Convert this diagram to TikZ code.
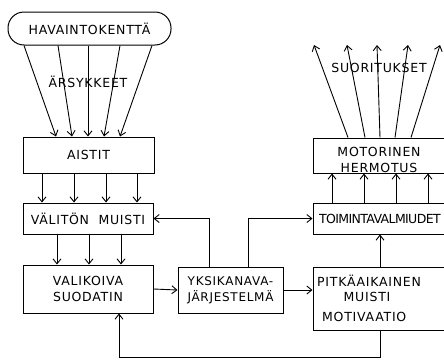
\documentclass[tikz,border=0pt]{standalone}
\usepackage{fontspec}
\setmainfont{DejaVu Sans}[LetterSpace=6]
\usetikzlibrary{arrows.meta}
\begin{document}
\begin{tikzpicture}[x=1pt,y=-1pt,
  box/.style={draw,line width=1pt,inner sep=0pt,align=center,
    font=\fontsize{12.5}{16}\selectfont},
  lbl/.style={inner sep=0pt,align=center,font=\fontsize{12.5}{16}\selectfont},
  arr/.style={line width=0.9pt,-{Straight Barb[length=5pt,width=8pt]}},
  ln/.style={line width=0.9pt}]
\useasboundingbox (0,0) rectangle (444,359);
\clip (0,0) rectangle (444,359);
% boxes
\node[box,rounded corners=16pt,minimum width=163pt,minimum height=33pt] (havain) at (89.5,28.5) {HAVAINTOKENTTÄ};
\node[box,minimum width=131pt,minimum height=36pt] (aistit) at (88.5,155) {AISTIT};
\node[box,minimum width=130pt,minimum height=31pt] (valiton) at (88,218.5) {VÄLITÖN\ \ MUISTI};
\node[box,minimum width=130pt,minimum height=48pt] (valik) at (88,289) {VALIKOIVA\\SUODATIN};
\node[box,minimum width=105pt,minimum height=46pt,font=\fontsize{12}{16}\selectfont] (yksi) at (230.5,290) {YKSIKANAVA-\\JÄRJESTELMÄ};
\node[box,minimum width=147pt,minimum height=35pt] (motor) at (386.5,155.5) {};
\node[box,minimum width=147pt,minimum height=31pt] (toim) at (386.5,218.5) {};
\node[box,minimum width=147pt,minimum height=63pt] (pitka) at (386.5,298.5) {};
% labels
\node[lbl] (arsy) at (88,82) {ÄRSYKKEET};
\node[lbl] (suor) at (379,68) {SUORITUKSET};
\node[lbl] (motorl) at (379,160) {MOTORINEN\\HERMOTUS};
\node[lbl,anchor=west] (toiml) at (319,219) {\addfontfeature{LetterSpace=-5}TOIMINTAVALMIUDET};
\node[lbl,anchor=west] (pitl1) at (317,281) {PITKÄAIKAINEN};
\node[lbl] (pitl2) at (367,297) {MUISTI};
\node[lbl,anchor=west] (pitl3) at (322,317) {MOTIVAATIO};
% stimuli arrows
\foreach \a/\b in {24/56,58/72,88/88,120/104,152/120}
  \draw[arr] (havain.south -| \a,0) -- (aistit.north -| \b,0);
\foreach \a in {42,74,106,137}
  \draw[arr] (aistit.south -| \a,0) -- (valiton.north -| \a,0);
\foreach \a in {57,89,121}
  \draw[arr] (valiton.south -| \a,0) -- (valik.north -| \a,0);
\draw[arr] (valik.east) -- (yksi.west);
\draw[arr] (yksi.north -| 209,0) |- (valiton.east);
\draw[arr] (yksi.north -| 248,0) |- (toim.west);
\draw[arr] (yksi.east) -- (yksi.east -| pitka.west);
\draw[arr] (pitka.north -| 380,0) -- (toim.south -| 380,0);
\foreach \a in {332,364,396,428}
  \draw[arr] (toim.north -| \a,0) -- (motor.south -| \a,0);
% performance arrows
\coordinate (o1) at (314,45);
\coordinate (o2) at (347,45);
\coordinate (o3) at (377,45);
\coordinate (o4) at (408,45);
\coordinate (o5) at (440,45);
\draw[arr] (motor.north -| 348,0) -- (o1);
\draw[arr] (motor.north -| 365,0) -- (o2);
\draw[arr] (motor.north -| 380,0) -- (o3);
\draw[arr] (motor.north -| 395,0) -- (o4);
\draw[arr] (motor.north -| 411,0) -- (o5);
% bottom loop
\coordinate (lp1) at (380,357);
\coordinate (lp2) at (119,357);
\draw[arr] (pitka.south -| lp1) -- (lp1) -- (lp2) -- (valik.south -| lp2);
\end{tikzpicture}
\end{document}
